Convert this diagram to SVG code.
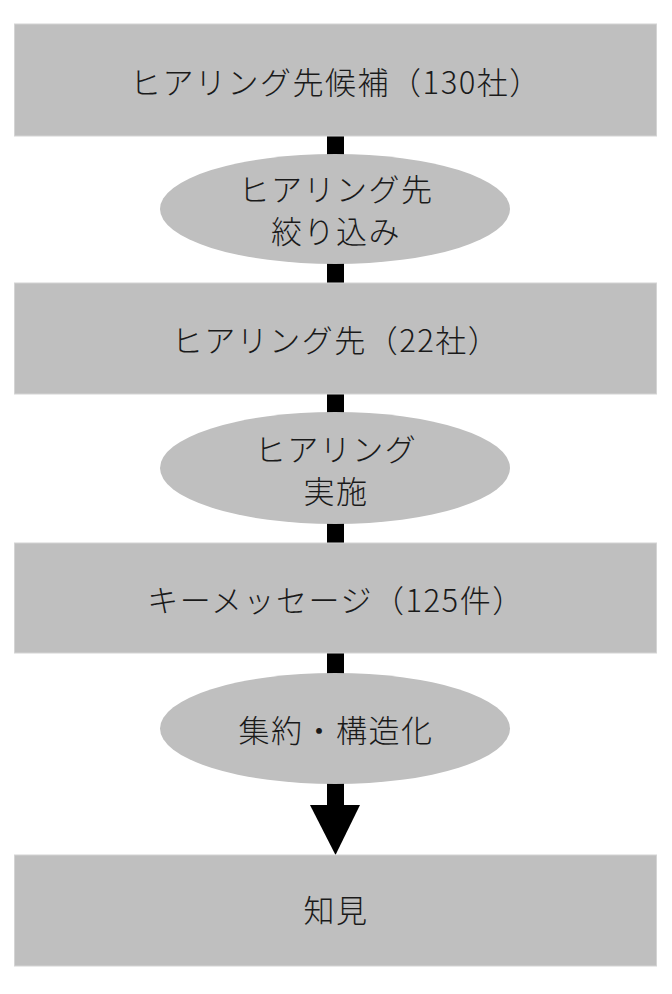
<svg xmlns="http://www.w3.org/2000/svg" width="672" height="994" viewBox="0 0 672 994">
<style>
.box{fill:#bfbfbf;stroke:#d4d4d4;stroke-width:1}
.oval{fill:#bfbfbf}
.t{font-family:"Noto Sans CJK JP","Noto Sans",sans-serif;font-size:31px;font-weight:300;letter-spacing:1.5px;fill:#1a1a1a;text-anchor:middle;dominant-baseline:central}
.bar{fill:#000}
</style>
<rect width="672" height="994" fill="#fff"/>
<g id="connectors">
<rect class="bar" x="327" y="135" width="17" height="21"/>
<rect class="bar" x="327" y="262" width="17" height="22"/>
<rect class="bar" x="327" y="393" width="17" height="21"/>
<rect class="bar" x="327" y="522" width="17" height="22"/>
<rect class="bar" x="327" y="652" width="17" height="23"/>
<rect class="bar" x="327" y="782" width="17" height="24"/>
<polygon class="bar" points="310,805 360,805 335.5,855"/>
</g>
<g id="n1">
<rect class="box" x="14.5" y="24" width="642" height="112"/>
<text class="t" x="336" y="80">ヒアリング先候補（130社）</text>
</g>
<g id="n2">
<ellipse class="oval" cx="335" cy="209" rx="175" ry="55"/>
<text class="t" x="336" y="187">ヒアリング先</text>
<text class="t" x="336" y="229">絞り込み</text>
</g>
<g id="n3">
<rect class="box" x="14.5" y="283" width="642" height="111"/>
<text class="t" x="336" y="338">ヒアリング先（22社）</text>
</g>
<g id="n4">
<ellipse class="oval" cx="335" cy="468" rx="175" ry="56"/>
<text class="t" x="336" y="447">ヒアリング</text>
<text class="t" x="336" y="489">実施</text>
</g>
<g id="n5">
<rect class="box" x="14.5" y="543" width="642" height="110"/>
<text class="t" x="336" y="598">キーメッセージ（125件）</text>
</g>
<g id="n6">
<ellipse class="oval" cx="335" cy="728.5" rx="175" ry="55.5"/>
<text class="t" x="336" y="728">集約・構造化</text>
</g>
<g id="n7">
<rect class="box" x="14.5" y="855" width="642" height="111"/>
<text class="t" x="336" y="908">知見</text>
</g>
</svg>
